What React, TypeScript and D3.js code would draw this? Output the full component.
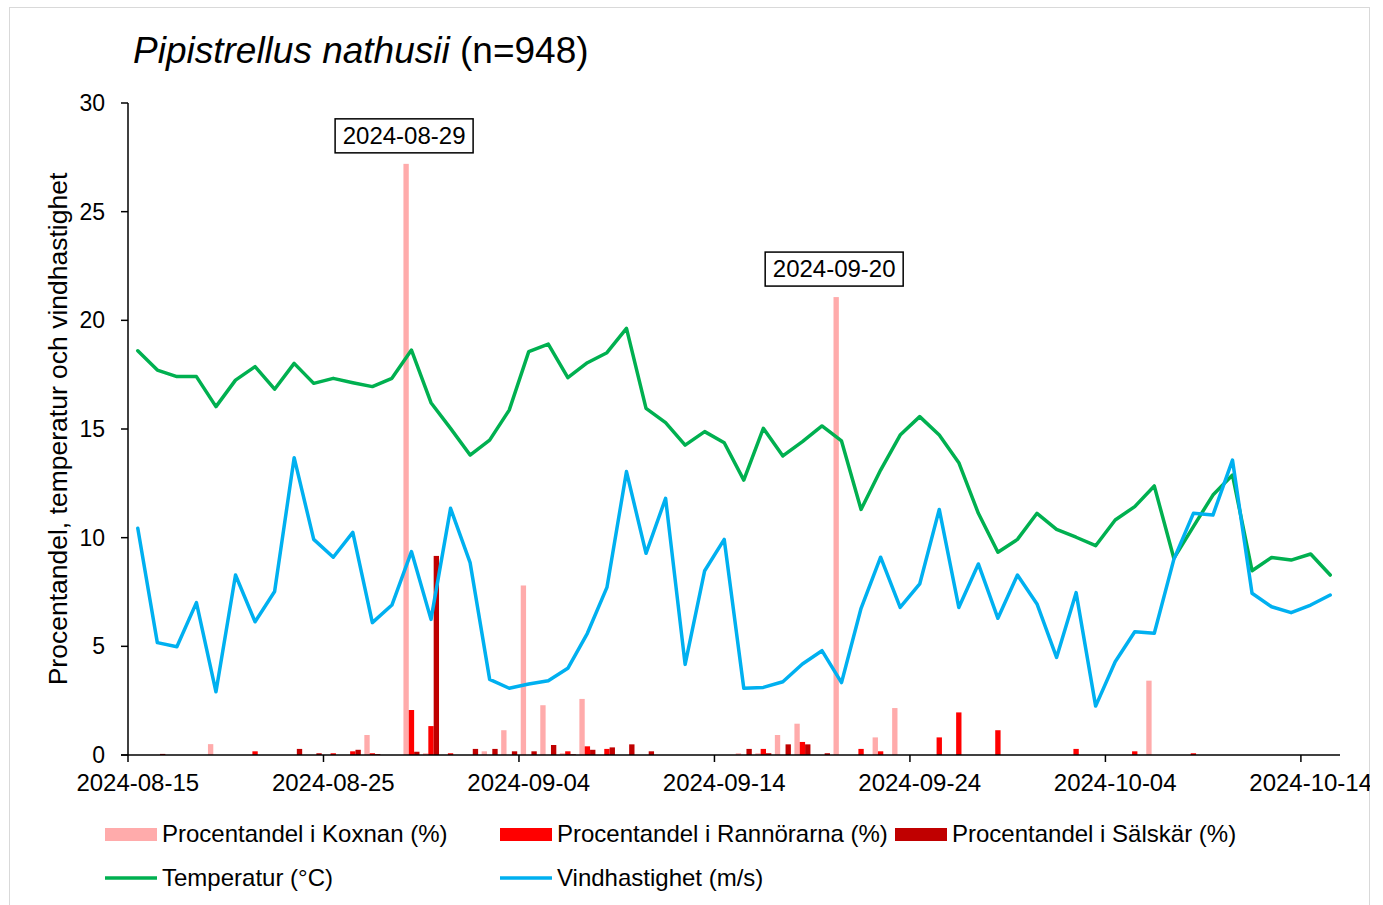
import { useEffect, useRef } from "react";
import * as d3 from "d3";

const days = d3.timeDay.range(new Date(2024, 7, 15), new Date(2024, 9, 16));
const fmt = d3.timeFormat("%Y-%m-%d");
const dayKeys = days.map((d) => fmt(d));

// share of recordings per site (%)
const koxnan = [
  0, 0, 0, 0, 0.5, 0, 0, 0, 0, 0,
  0, 0, 0.92, 0, 27.2, 0.08, 0, 0, 0.17, 1.14,
  7.8, 2.29, 0.08, 2.58, 0, 0, 0, 0, 0, 0,
  0, 0.08, 0.08, 0.92, 1.44, 0, 21.07, 0, 0.81, 2.16,
  0, 0, 0, 0, 0, 0, 0, 0, 0, 0,
  0, 0, 3.42, 0, 0, 0, 0, 0, 0, 0,
  0, 0,
];
const rannorarna = [
  0, 0, 0, 0, 0, 0, 0.17, 0, 0, 0,
  0.08, 0.17, 0.08, 0, 2.07, 1.33, 0.08, 0, 0, 0,
  0, 0, 0.17, 0.4, 0.28, 0, 0, 0, 0, 0,
  0, 0, 0.28, 0, 0.6, 0, 0, 0.28, 0.17, 0,
  0, 0.81, 1.96, 0, 1.14, 0, 0, 0, 0.28, 0,
  0, 0.17, 0, 0, 0.08, 0, 0, 0, 0, 0,
  0, 0,
];
const salskar = [
  0, 0.05, 0, 0, 0, 0, 0, 0, 0.28, 0.08,
  0, 0.24, 0.04, 0, 0.15, 9.16, 0, 0.28, 0.28, 0.17,
  0.17, 0.46, 0.03, 0.24, 0.35, 0.49, 0.17, 0, 0, 0,
  0, 0.28, 0.08, 0.49, 0.49, 0.08, 0, 0, 0, 0,
  0, 0, 0, 0, 0, 0, 0, 0, 0, 0,
  0, 0, 0, 0, 0, 0, 0, 0, 0, 0,
  0, 0,
];
const temperature = [
  18.6, 17.71, 17.41, 17.41, 16.03, 17.25, 17.87, 16.83, 18.02, 17.1,
  17.33, 17.13, 16.95, 17.33, 18.63, 16.21, 15.03, 13.8, 14.49, 15.87,
  18.56, 18.91, 17.36, 18.05, 18.51, 19.63, 15.95, 15.29, 14.26, 14.88,
  14.37, 12.65, 15.03, 13.76, 14.42, 15.14, 14.45, 11.3, 13.11, 14.72,
  15.57, 14.72, 13.45, 11.12, 9.33, 9.92, 11.12, 10.38, 10.02, 9.63,
  10.81, 11.43, 12.38, 9.05, 10.51, 11.96, 12.88, 8.48, 9.09, 8.97,
  9.25, 8.28,
];
const wind = [
  10.43, 5.17, 4.98, 7.01, 2.91, 8.28, 6.13, 7.52, 13.68, 9.92,
  9.1, 10.24, 6.09, 6.9, 9.36, 6.24, 11.35, 8.85, 3.48, 3.07,
  3.27, 3.42, 3.99, 5.6, 7.71, 13.04, 9.28, 11.81, 4.17, 8.48,
  9.92, 3.07, 3.11, 3.37, 4.19, 4.8, 3.33, 6.75, 9.1, 6.79,
  7.87, 11.3, 6.79, 8.79, 6.29, 8.28, 6.95, 4.49, 7.47, 2.25,
  4.29, 5.67, 5.6, 9.0, 11.12, 11.04, 13.57, 7.44, 6.82, 6.55,
  6.9, 7.36,
];

const yTicks = [0, 5, 10, 15, 20, 25, 30];
const xTickLabels = ["2024-08-15", "2024-08-25", "2024-09-04", "2024-09-14", "2024-09-24", "2024-10-04", "2024-10-14"];
const calloutDays = ["2024-08-29", "2024-09-20"];

const barSeries = [
  { name: "Procentandel i Koxnan (%)", values: koxnan, color: "#FFABAB" },
  { name: "Procentandel i Rannörarna (%)", values: rannorarna, color: "#FF0000" },
  { name: "Procentandel i Sälskär (%)", values: salskar, color: "#C00000" },
];
const lineSeries = [
  { name: "Temperatur (°C)", values: temperature, color: "#00B050" },
  { name: "Vindhastighet (m/s)", values: wind, color: "#00B0F0" },
];

const FONT = "'Liberation Sans', Arial, sans-serif";

export default function App() {
  const svgRef = useRef(null);

  useEffect(() => {
    if (!svgRef.current) return;
    const width = 1383;
    const height = 905;
    const left = 128;
    const right = 1340;
    const top = 103;
    const bottom = 755;

    const svg = d3.select(svgRef.current);
    svg.selectAll("*").remove();
    svg.attr("width", width).attr("height", height).attr("viewBox", `0 0 ${width} ${height}`);

    svg.append("defs").append("clipPath").attr("id", "area")
      .append("rect").attr("x", 9).attr("y", 7).attr("width", 1361).attr("height", 900);

    const g = svg.append("g").attr("clip-path", "url(#area)").attr("font-family", FONT);

    g.append("rect")
      .attr("x", 9.5).attr("y", 7.5).attr("width", 1360).attr("height", 910)
      .attr("fill", "white").attr("stroke", "#d9d9d9").attr("stroke-width", 1);

    const x = d3.scaleBand().domain(dayKeys).range([left, right]).paddingInner(0.18).paddingOuter(0.09);
    const sub = d3.scaleBand().domain(barSeries.map((s) => s.name)).range([0, x.bandwidth()]);
    const xt = d3.scaleTime().domain([days[0], d3.timeDay.offset(days[days.length - 1], 1)]).range([left, right]);
    const y = d3.scaleLinear().domain([0, 30]).range([bottom, top]);
    const cx = (k) => x(k)! + x.bandwidth() / 2;

    // title
    const title = g.append("text").attr("x", 133).attr("y", 63).attr("font-size", "37px").attr("fill", "#000");
    title.append("tspan").attr("font-style", "italic").text("Pipistrellus nathusii");
    title.append("tspan").text(" (n=948)");

    // bars
    barSeries.forEach((s) => {
      g.append("g").selectAll("rect")
        .data(s.values.map((v, i) => ({ k: dayKeys[i], v })).filter((d) => d.v > 0))
        .join("rect")
        .attr("x", (d) => x(d.k)! + sub(s.name)!)
        .attr("width", sub.bandwidth())
        .attr("y", (d) => y(d.v))
        .attr("height", (d) => bottom - y(d.v))
        .attr("fill", s.color);
    });

    // axes
    g.append("line").attr("x1", left).attr("x2", left).attr("y1", top).attr("y2", bottom)
      .attr("stroke", "#000").attr("stroke-width", 1.5);
    yTicks.forEach((t) => {
      g.append("line").attr("x1", left - 7).attr("x2", left).attr("y1", y(t)).attr("y2", y(t))
        .attr("stroke", "#000").attr("stroke-width", 1.5);
      g.append("text").attr("x", 105).attr("y", y(t)).attr("dy", "0.35em")
        .attr("text-anchor", "end").attr("font-size", "23px").text(t);
    });
    g.append("line").attr("x1", left - 7).attr("x2", right).attr("y1", bottom).attr("y2", bottom)
      .attr("stroke", "#000").attr("stroke-width", 1.5);
    const parse = d3.timeParse("%Y-%m-%d");
    xTickLabels.forEach((lbl) => {
      const px = xt(parse(lbl)!);
      g.append("line").attr("x1", px).attr("x2", px).attr("y1", bottom).attr("y2", bottom + 7)
        .attr("stroke", "#000").attr("stroke-width", 1.5);
      g.append("text").attr("x", px + x.step() / 2).attr("y", 791)
        .attr("text-anchor", "middle").attr("font-size", "24px").text(lbl);
    });

    g.append("text")
      .attr("transform", `translate(67, ${(top + bottom) / 2}) rotate(-90)`)
      .attr("text-anchor", "middle").attr("font-size", "26.5px")
      .text("Procentandel, temperatur och vindhastighet");

    // lines
    lineSeries.forEach((s) => {
      const line = d3.line<number>().x((_, i) => cx(dayKeys[i])).y((v) => y(v));
      g.append("path").attr("d", line(s.values)!)
        .attr("fill", "none").attr("stroke", s.color).attr("stroke-width", 3.5)
        .attr("stroke-linejoin", "round").attr("stroke-linecap", "round");
    });

    // callouts on the Koxnan peaks
    calloutDays.forEach((k) => {
      const i = dayKeys.indexOf(k);
      const bx = x(k)! + sub(barSeries[0].name)! + sub.bandwidth() / 2 - 2;
      const by = y(koxnan[i]) - 11;
      const w = 138;
      const h = 34;
      g.append("rect").attr("x", bx - w / 2).attr("y", by - h).attr("width", w).attr("height", h)
        .attr("fill", "white").attr("stroke", "#000").attr("stroke-width", 1.5);
      g.append("text").attr("x", bx).attr("y", by - h / 2).attr("dy", "0.35em")
        .attr("text-anchor", "middle").attr("font-size", "24px").text(k);
    });

    // legend
    const legendCols = [105, 500, 895];
    barSeries.forEach((s, i) => {
      g.append("rect").attr("x", legendCols[i]).attr("y", 828).attr("width", 52).attr("height", 13).attr("fill", s.color);
      g.append("text").attr("x", legendCols[i] + 57).attr("y", 834).attr("dy", "0.35em")
        .attr("font-size", "24px").text(s.name);
    });
    lineSeries.forEach((s, i) => {
      g.append("line").attr("x1", legendCols[i]).attr("x2", legendCols[i] + 52).attr("y1", 878).attr("y2", 878)
        .attr("stroke", s.color).attr("stroke-width", 3.5);
      g.append("text").attr("x", legendCols[i] + 57).attr("y", 878).attr("dy", "0.35em")
        .attr("font-size", "24px").text(s.name);
    });
  }, []);

  return <svg ref={svgRef} style={{ position: "absolute", left: 0, top: 0 }} />;
}
